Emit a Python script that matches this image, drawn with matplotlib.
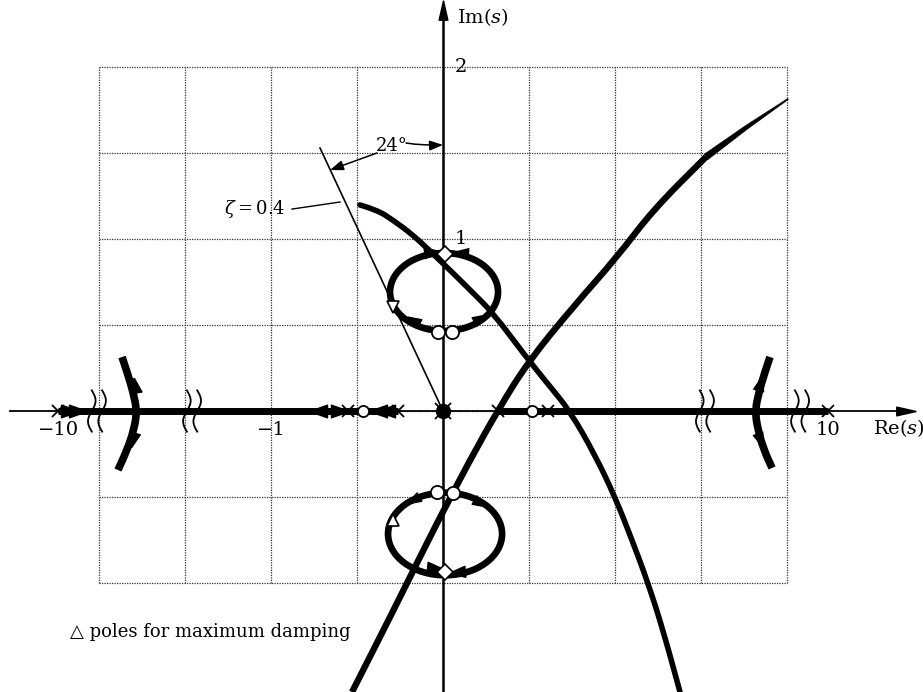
import numpy as np
import matplotlib.pyplot as plt
from matplotlib.patches import Ellipse, PathPatch, Polygon
from matplotlib.path import Path

plt.rcParams['font.family'] = ['DejaVu Serif', 'DejaVu Sans']
plt.rcParams['mathtext.fontset'] = 'dejavuserif'

# --------------------------------------------------------
# Root locus data (s-plane units)
# --------------------------------------------------------

# open-loop poles / zeros on the real axis
far_poles = [-10, 10]
axis_poles = [-0.55, -0.26, 0.32, 0.61]
axis_zeros = [-0.465, 0.52]
origin_pole = [0.0]

# real-axis locus segments
real_locus = [(-10, -0.26), (0.32, 10)]

# complex pole/zero pairs on the two loops
loop_circles_re = [-0.029, 0.052, -0.035, 0.058]
loop_circles_im = [0.459, 0.459, -0.471, -0.477]
loop_diamonds_re = [0.012, 0.012]
loop_diamonds_im = [0.913, -0.936]

# closed loops around the complex pairs
upper_loop_center = (0.006, 0.692)
upper_loop_size = (0.628, 0.453)
lower_loop_center = (0.012, -0.715)
lower_loop_size = (0.663, 0.48)

# maximum damping poles
damp_upper = (-0.291, 0.605)
damp_lower = (-0.291, -0.634)

# long branches
branch_a_re = [-0.483, -0.384, -0.291, -0.174, -0.064, 0.052, 0.169, 0.291,
               0.488, 0.610, 0.738, 0.884, 1.0, 1.099, 1.192, 1.279, 1.378]
branch_a_im = [1.198, 1.169, 1.110, 1.023, 0.919, 0.808, 0.692, 0.570,
               0.308, 0.157, 0.0, -0.256, -0.5, -0.750, -1.0, -1.273, -1.634]
branch_b_re = [-0.529, -0.360, -0.209, -0.041, 0.157, 0.320, 0.494, 0.756,
               1.012, 1.221, 1.529, 1.767, 2.006]
branch_b_im = [-1.634, -1.302, -1.0, -0.663, -0.285, 0.006, 0.285, 0.605,
               0.895, 1.169, 1.477, 1.651, 1.814]

# breakaway arcs off the real axis (inside the broken part of the axis)
left_arc_re = [-1.866, -1.831, -1.802, -1.779, -1.797, -1.837, -1.890]
left_arc_im = [0.314, 0.209, 0.110, 0.0, -0.110, -0.227, -0.343]
right_arc_re = [1.901, 1.866, 1.837, 1.814, 1.831, 1.866, 1.913]
right_arc_im = [0.314, 0.209, 0.110, 0.0, -0.110, -0.227, -0.331]

# direction arrows: (re, im, heading in degrees)
loop_arrows = [(-0.064, 0.924, 5), (0.099, 0.919, 175),
               (-0.174, 0.529, 150), (0.215, 0.541, 30),
               (-0.174, -0.517, 210), (0.215, -0.535, 330),
               (-0.047, -0.913, -5), (0.081, -0.936, 185)]
arc_arrows = [(-1.791, 0.151, 100), (-1.802, -0.169, 255),
              (1.843, 0.163, 75), (1.843, -0.169, 290)]
axis_arrows = [(-2.169, 0), (-2.122, 0), (-0.727, 180), (-0.599, 0),
               (-0.378, 180), (-0.331, 180)]

# damping ratio line
zeta = 0.4
zeta_angle = 24
zeta_end = (-0.715, 1.529)

im_ticks = [1, 2]
re_ticks = [-1]

# --------------------------------------------------------
# Helpers
# --------------------------------------------------------

def squeeze(v):
    """Compress values beyond the axis break."""
    v = np.asarray(v, dtype=float)
    out = v.copy()
    big = np.abs(v) > 2
    out[big] = np.sign(v[big]) * (2 + 0.34 * np.log10(np.abs(v[big]) / 2))
    return out


def head(angle, aspect=0.7):
    """Arrowhead marker vertices pointing along angle (deg)."""
    t = np.deg2rad(angle)
    pts = np.array([[1, 0], [-1, aspect], [-1, -aspect], [1, 0]])
    rot = np.array([[np.cos(t), -np.sin(t)], [np.sin(t), np.cos(t)]])
    return (pts @ rot.T).tolist()


def smooth(xs, ys):
    """Quadratic bezier chain through the midpoints of the given points."""
    pts = np.column_stack([xs, ys])
    verts, codes = [pts[0]], [Path.MOVETO]
    for i in range(1, len(pts) - 1):
        verts += [pts[i], (pts[i] + pts[i + 1]) / 2]
        codes += [Path.CURVE3, Path.CURVE3]
    verts.append(pts[-1])
    codes.append(Path.LINETO)
    return Path(verts, codes)


def taper(xs, ys, half_widths):
    """Filled strip whose width shrinks along the points."""
    pts = np.column_stack([xs, ys])
    d = np.gradient(pts, axis=0)
    n = np.column_stack([-d[:, 1], d[:, 0]])
    n /= np.linalg.norm(n, axis=1)[:, None]
    hw = np.asarray(half_widths)[:, None]
    return np.vstack([pts + n * hw, (pts - n * hw)[::-1]])


def draw_break(ax, x0):
    y = np.linspace(-0.12, 0.12, 50)
    for dx in (-0.03, 0.03):
        ax.plot(x0 + dx + 0.022 * np.sin(np.pi * y / 0.12), y,
                color='k', lw=1.3, zorder=4)


# --------------------------------------------------------
# Figure
# --------------------------------------------------------

fig = plt.figure(figsize=(9.23, 6.92), dpi=100)
ax = fig.add_axes([0, 0, 1, 1])
ax.set_xlim(-443 / 172, 480 / 172)
ax.set_ylim(-281 / 172, 411 / 172)
ax.axis('off')

# dotted grid
gx = np.arange(-2, 2.01, 0.5)
gy = np.arange(-1, 2.01, 0.5)
grid_kw = dict(color='0.2', lw=0.9, ls=(0, (1, 1)), zorder=1)
for x in gx:
    ax.plot([x, x], [gy[0], gy[-1]], **grid_kw)
for y in gy:
    ax.plot([gx[0], gx[-1]], [y, y], **grid_kw)

# axes
ax.plot([-2.517, 2.66], [0, 0], color='k', lw=1.3, zorder=2)
ax.plot([2.69], [0], marker=head(0, 0.45), ms=14, color='k', zorder=6)
ax.plot([0, 0], [-1.7, 2.30], color='k', lw=1.8, zorder=2)
ax.plot([0], [2.33], marker=head(90, 0.45), ms=14, color='k', zorder=6)
ax.text(0.08, 2.29, 'Im($s$)', fontsize=14, ha='left', va='center')
ax.text(2.50, -0.10, 'Re($s$)', fontsize=14, ha='left', va='center')

for v in im_ticks:
    ax.text(0.07, v, str(v), fontsize=14, ha='left', va='center')
for v in re_ticks:
    ax.text(v, -0.11, '\u2212' + str(abs(v)), fontsize=14, ha='center', va='center')
for v in far_poles:
    lbl = ('\u2212' if v < 0 else '') + str(abs(v))
    ax.text(squeeze([v])[0], -0.11, lbl, fontsize=14, ha='center', va='center')

for x0 in (-2.012, -1.459, 1.523, 2.076):
    draw_break(ax, x0)

# locus on the real axis
for a, b in real_locus:
    ax.plot(squeeze([a, b]), [0, 0], color='k', lw=5, solid_capstyle='butt', zorder=3)

# breakaway arcs
for re, im in ((left_arc_re, left_arc_im), (right_arc_re, right_arc_im)):
    ax.add_patch(PathPatch(smooth(re, im), fill=False, ec='k', lw=5.5,
                           capstyle='butt', zorder=3))

# loops
for c, (w, h) in ((upper_loop_center, upper_loop_size), (lower_loop_center, lower_loop_size)):
    ax.add_patch(Ellipse(c, w, h, fill=False, ec='k', lw=4.8, zorder=3))

# long branches
ax.add_patch(PathPatch(smooth(branch_a_re, branch_a_im), fill=False, ec='k',
                       lw=4.0, capstyle='round', zorder=3))
ax.add_patch(PathPatch(smooth(branch_b_re[:-2], branch_b_im[:-2]), fill=False,
                       ec='k', lw=4.6, capstyle='butt', zorder=3))
ax.add_patch(Polygon(taper(branch_b_re[-3:], branch_b_im[-3:], [0.0186, 0.011, 0.003]),
                     closed=True, fc='k', ec='k', lw=0.5, zorder=3))

# damping ratio line and annotations
ax.plot([0, zeta_end[0]], [0, zeta_end[1]], color='k', lw=1.2, zorder=2)
ax.plot([-0.878, -0.599], [1.174, 1.215], color='k', lw=1.0)
ax.text(-1.093, 1.174, r'$\zeta = %s$' % zeta, fontsize=13, ha='center', va='center')
ax.text(-0.297, 1.541, '%d\u00b0' % zeta_angle, fontsize=13, ha='center', va='center')
ax.annotate('', xy=(0, 1.547), xytext=(-0.215, 1.558),
            arrowprops=dict(arrowstyle='-|>,head_length=0.8,head_width=0.3',
                            color='k', lw=1.1, shrinkA=0, shrinkB=0,
                            connectionstyle='arc3,rad=0.05'))
ax.annotate('', xy=(-0.657, 1.401), xytext=(-0.384, 1.50),
            arrowprops=dict(arrowstyle='-|>,head_length=0.8,head_width=0.3',
                            color='k', lw=1.1, shrinkA=0, shrinkB=0))

# direction arrows
for x, y, ang in loop_arrows + arc_arrows:
    ax.plot([x], [y], marker=head(ang), ms=12, color='k', zorder=6)
for x, ang in axis_arrows:
    ax.plot([x], [0], marker=head(ang), ms=13, color='k', zorder=6)

# poles and zeros
ax.plot(squeeze(far_poles), [0, 0], 'x', ms=8, mew=1.3, color='k', zorder=7)
ax.plot(axis_poles, [0] * len(axis_poles), 'x', ms=8, mew=1.3, color='k', zorder=7)
ax.plot(axis_zeros, [0] * len(axis_zeros), 'o', ms=8, mew=1.3, mfc='white', mec='k', zorder=7)
ax.plot(origin_pole, [0], 'o', ms=10, color='k', zorder=7)
ax.plot(origin_pole, [0], 'x', ms=12, mew=1.3, color='k', zorder=7)
ax.plot(loop_circles_re, loop_circles_im, 'o', ms=9.5, mew=1.3, mfc='white', mec='k', zorder=7)
ax.plot(loop_diamonds_re, loop_diamonds_im, 'D', ms=8, mew=1.2, mfc='white', mec='k', zorder=7)
ax.plot(*damp_upper, 'v', ms=8, mew=1.2, mfc='white', mec='k', zorder=7)
ax.plot(*damp_lower, '^', ms=8, mew=1.2, mfc='white', mec='k', zorder=7)

ax.text(-2.169, -1.285, '\u25b3 poles for maximum damping', fontsize=13,
        ha='left', va='center')

fig.savefig('out.png', dpi=100, facecolor='white')
